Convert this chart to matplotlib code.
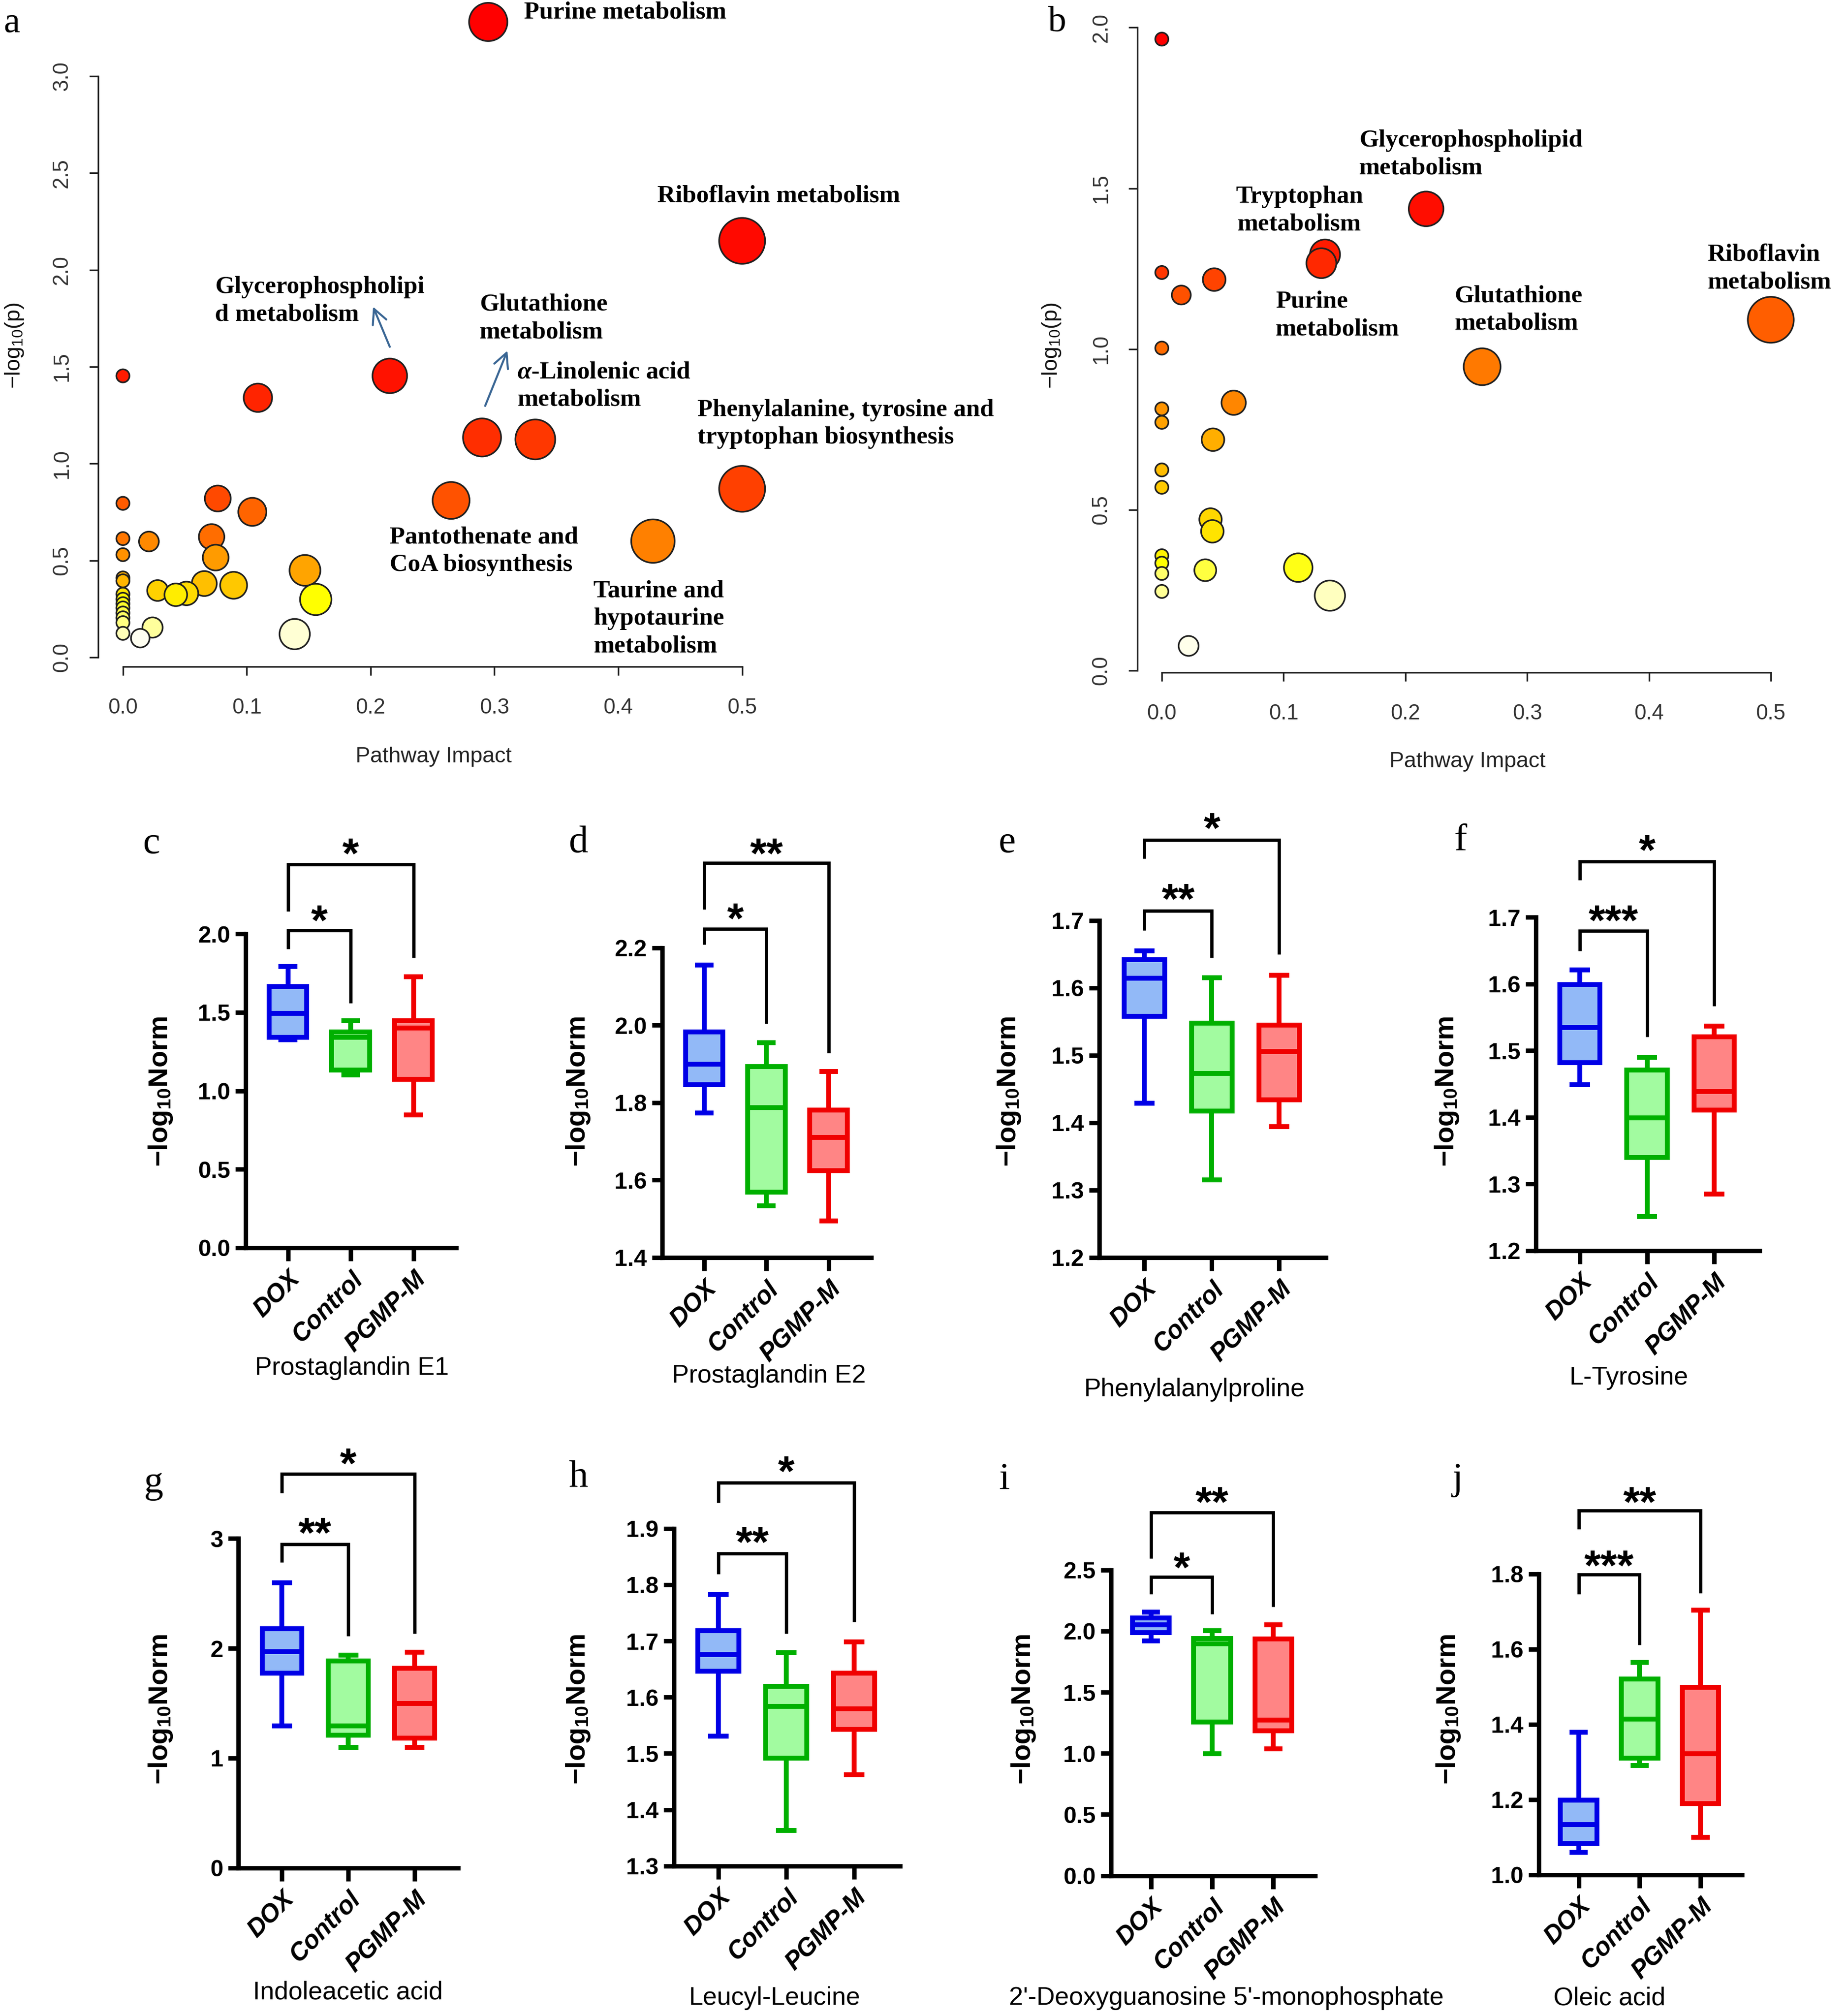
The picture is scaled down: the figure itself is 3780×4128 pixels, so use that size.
import colorsys
import numpy as np
import matplotlib
matplotlib.use("Agg")
import matplotlib.pyplot as plt

plt.rcParams['font.family'] = ['Liberation Sans', 'DejaVu Sans']
plt.rcParams['mathtext.fontset'] = 'custom'
plt.rcParams['mathtext.it'] = 'Liberation Serif:italic:bold'
plt.rcParams['mathtext.rm'] = 'Liberation Sans'

# ---------------- data ----------------
# panel a: pathway impact / -log10(p)
a_impact = [0.295, 0.5, 0.2155, 0.0, 0.109, 0.29, 0.333, 0.5, 0.0766, 0.265,
            0.0, 0.1045, 0.0716, 0.0, 0.428, 0.021, 0.0, 0.0749, 0.147, 0.0,
            0.0, 0.0657, 0.0894, 0.028, 0.0513, 0.0, 0.0427, 0.0, 0.1557, 0.0,
            0.0, 0.0, 0.0, 0.0, 0.0239, 0.0, 0.1387, 0.014]
a_logp = [3.28, 2.15, 1.453, 1.453, 1.34, 1.135, 1.125, 0.87, 0.82, 0.81,
          0.795, 0.751, 0.622, 0.613, 0.60, 0.598, 0.53, 0.515, 0.449, 0.41,
          0.395, 0.381, 0.372, 0.345, 0.33, 0.326, 0.323, 0.30, 0.299, 0.277,
          0.255, 0.229, 0.204, 0.179, 0.154, 0.124, 0.12, 0.099]

# panel b
b_impact = [0.0, 0.217, 0.134, 0.131, 0.0, 0.043, 0.016, 0.5, 0.0, 0.263,
            0.059, 0.0, 0.0, 0.042, 0.0, 0.0, 0.040, 0.0415, 0.0, 0.0,
            0.112, 0.0357, 0.0, 0.0, 0.138, 0.022]
b_logp = [1.964, 1.436, 1.294, 1.267, 1.238, 1.216, 1.168, 1.091, 1.003, 0.945,
          0.833, 0.814, 0.772, 0.718, 0.624, 0.570, 0.47, 0.433, 0.357, 0.334,
          0.32, 0.312, 0.302, 0.246, 0.233, 0.0766]

groups = ['DOX', 'Control', 'PGMP-M']
# box stats per group: [whisker low, Q1, median, Q3, whisker high]
pge1 = [[1.325, 1.34, 1.494, 1.664, 1.793], [1.10, 1.131, 1.34, 1.375, 1.445], [0.847, 1.073, 1.40, 1.445, 1.726]]
pge2 = [[1.774, 1.847, 1.90, 1.983, 2.156], [1.534, 1.569, 1.787, 1.893, 1.955], [1.494, 1.624, 1.71, 1.781, 1.88]]
phepro = [[1.429, 1.558, 1.614, 1.642, 1.655], [1.315, 1.4175, 1.473, 1.548, 1.615], [1.394, 1.434, 1.506, 1.545, 1.619]]
tyr = [[1.449, 1.4817, 1.5345, 1.599, 1.621], [1.251, 1.34, 1.399, 1.471, 1.49], [1.285, 1.411, 1.439, 1.521, 1.537]]
iaa = [[1.295, 1.775, 1.971, 2.177, 2.597], [1.096, 1.2075, 1.295, 1.883, 1.936], [1.096, 1.183, 1.498, 1.82, 1.967]]
leuleu = [[1.531, 1.6466, 1.676, 1.718, 1.783], [1.3636, 1.4914, 1.5837, 1.619, 1.679], [1.462, 1.5427, 1.579, 1.643, 1.698]]
dgmp = [[1.918, 1.987, 2.053, 2.107, 2.154], [0.997, 1.258, 1.896, 1.94, 2.003], [1.038, 1.186, 1.274, 1.934, 2.05]]
oleic = [[1.059, 1.083, 1.133, 1.199, 1.379], [1.291, 1.31, 1.414, 1.521, 1.565], [1.10, 1.189, 1.322, 1.4986, 1.703]]

# significance: (DOX vs Control, DOX vs PGMP-M)
sig = {'c': ('*', '*'), 'd': ('*', '**'), 'e': ('**', '*'), 'f': ('***', '*'),
       'g': ('**', '*'), 'h': ('**', '*'), 'i': ('*', '**'), 'j': ('***', '**')}

# ---------------- figure ----------------
FW, FH, DPI = 3780, 4128, 300
fig = plt.figure(figsize=(FW / DPI, FH / DPI), dpi=DPI)


def fx(px):
    return px / FW


def fy(py):
    return 1 - py / FH


def place(xpx, xv, ypx, yv, xlim, ylim):
    sx = (xpx[1] - xpx[0]) / (xv[1] - xv[0])
    sy = (ypx[1] - ypx[0]) / (yv[1] - yv[0])
    x0 = xpx[0] + (xlim[0] - xv[0]) * sx
    x1 = xpx[0] + (xlim[1] - xv[0]) * sx
    y0 = ypx[0] + (ylim[0] - yv[0]) * sy
    y1 = ypx[0] + (ylim[1] - yv[0]) * sy
    ax = fig.add_axes([fx(x0), fy(y0), (x1 - x0) / FW, (y0 - y1) / FH])
    ax.set_xlim(xlim)
    ax.set_ylim(ylim)
    ax.patch.set_alpha(0)
    return ax


def heat_colors(n):
    # same scheme as R heat.colors()
    j = n // 4
    i = n - j
    cols = [colorsys.hsv_to_rgb(k / (i - 1) / 6, 1, 1) for k in range(i)]
    if j > 0:
        for s in np.linspace(1 - 1 / (2 * j), 1 / (2 * j), j):
            cols.append(colorsys.hsv_to_rgb(1 / 6, s, 1))
    return cols


serif = ['Liberation Serif', 'DejaVu Serif']
tick_col = '#333333'


def bubble_panel(ax, impact, logp, ytop):
    impact = np.asarray(impact)
    logp = np.asarray(logp)
    heat = heat_colors(len(logp))
    order = np.argsort(-logp, kind='stable')
    colors = [None] * len(logp)
    for k, idx in enumerate(order):
        colors[idx] = heat[k]
    r_px = 13.4 + 33.6 * np.sqrt(impact / 0.5)
    sizes = (2 * r_px * 72 / DPI) ** 2
    ax.scatter(impact, logp, s=sizes, c=colors, edgecolors='#202020',
               linewidths=0.8, zorder=3, clip_on=False)
    for sp in ['top', 'right']:
        ax.spines[sp].set_visible(False)
    for sp in ['left', 'bottom']:
        ax.spines[sp].set_linewidth(0.8)
        ax.spines[sp].set_color('#222222')
    ax.spines['bottom'].set_bounds(0, 0.5)
    ax.spines['left'].set_bounds(0, ytop)
    ax.set_xticks(np.arange(0, 0.51, 0.1))
    ax.set_yticks(np.arange(0, ytop + 0.01, 0.5))
    ax.xaxis.set_major_formatter('{x:.1f}')
    ax.yaxis.set_major_formatter('{x:.1f}')
    ax.tick_params(direction='out', length=4.4, width=0.8, colors='#222222',
                   labelcolor=tick_col, labelsize=10.5)
    ax.tick_params(axis='x', pad=11)
    ax.tick_params(axis='y', pad=8.5)
    for lab in ax.get_yticklabels():
        lab.set_rotation(90)
        lab.set_va('center')


# ---- panel a ----
ax_a = place((251.7, 1519.6), (0, 0.5), (1346, 156), (0, 3),
             (-0.02, 0.52), (-0.047, 3.408))
bubble_panel(ax_a, a_impact, a_logp, 3.0)

note_kw = dict(family=serif, fontweight='bold', fontsize=12.3, va='center',
               linespacing=1.3, zorder=5)
a_notes = [("Purine metabolism", 0.324, 3.328, 'left'),
           ("Riboflavin metabolism", 0.4315, 2.38, 'left'),
           ("Glycerophospholipi\nd metabolism", 0.0743, 1.84, 'left'),
           ("Glutathione\nmetabolism", 0.288, 1.75, 'left'),
           ("$\\alpha$-Linolenic acid\nmetabolism", 0.3185, 1.40, 'left'),
           ("Phenylalanine, tyrosine and\ntryptophan biosynthesis", 0.464, 1.205, 'left'),
           ("Pantothenate and\nCoA biosynthesis", 0.2155, 0.548, 'left'),
           ("Taurine and\nhypotaurine\nmetabolism", 0.380, 0.20, 'left')]
for txt, x, y, ha in a_notes:
    ax_a.text(x, y, txt, ha=ha, multialignment=ha, **note_kw)

for tail, head in [((0.2155, 1.603), (0.202, 1.81)), ((0.2925, 1.298), (0.3105, 1.583))]:
    ax_a.annotate('', xy=head, xytext=tail,
                  arrowprops=dict(arrowstyle='->', color='#3a6694', lw=1.0,
                                  mutation_scale=18, shrinkA=0, shrinkB=0))

fig.text(fx(30), fy(708), '−log$_{\\mathregular{10}}$(p)', rotation=90,
         ha='center', va='center', fontsize=10.8, color='#111111')
fig.text(fx(888), fy(1549), 'Pathway Impact', ha='center', va='center',
         fontsize=10.8, color='#222222')

# ---- panel b ----
ax_b = place((2379, 3626), (0, 0.5), (1373, 56.4), (0, 2),
             (-0.02, 0.52), (-0.0058, 2.04))
bubble_panel(ax_b, b_impact, b_logp, 2.0)
b_notes = [("Glycerophospholipid\nmetabolism", 0.162, 1.606, 'left'),
           ("Tryptophan\nmetabolism", 0.113, 1.43, 'center'),
           ("Purine\nmetabolism", 0.0933, 1.104, 'left'),
           ("Glutathione\nmetabolism", 0.2405, 1.122, 'left'),
           ("Riboflavin\nmetabolism", 0.448, 1.25, 'left')]
for txt, x, y, ha in b_notes:
    ax_b.text(x, y, txt, ha=ha, multialignment=ha, **note_kw)

fig.text(fx(2154), fy(708), '−log$_{\\mathregular{10}}$(p)', rotation=90,
         ha='center', va='center', fontsize=10.8, color='#111111')
fig.text(fx(3005), fy(1560), 'Pathway Impact', ha='center', va='center',
         fontsize=10.8, color='#222222')

label_kw = dict(family=serif, fontsize=18, ha='center', va='center')
fig.text(fx(24), fy(48), 'a', **label_kw)
fig.text(fx(2165), fy(46), 'b', **label_kw)

# ---------------- box panels ----------------
edge_cols = ['#0000E6', '#00B000', '#F00000']
fill_cols = ['#92B9F7', '#A2FBA0', '#FF8585']

box_layout = {
    'c': dict(stats=pge1, name='Prostaglandin E1', yaxis=503, xright=934, gx=(589.5, 846.5),
              ty=(2555, 1912), tv=(0.0, 2.0), step=0.5, fmt='{x:.1f}',
              inner=(2.022, 1.905, 1.557, 2.154), outer=(2.441, 2.142, 1.848, 2.578),
              lab=(310.6, 1728.5), ylab=(329, 2235), xlab=(721, 2802)),
    'd': dict(stats=pge2, name='Prostaglandin E2', yaxis=1355.6, xright=1784, gx=(1442, 1696.7),
              ty=(2575, 1940.8), tv=(1.4, 2.2), step=0.2, fmt='{x:.1f}',
              inner=(2.249, 2.208, 2.004, 2.304), outer=(2.419, 2.299, 1.928, 2.471),
              lab=(1184, 1726), ylab=(1184, 2235), xlab=(1575, 2818)),
    'e': dict(stats=phepro, name='Phenylalanylproline', yaxis=2250.7, xright=2714.6, gx=(2343.4, 2619.4),
              ty=(2575, 1884.7), tv=(1.2, 1.7), step=0.1, fmt='{x:.1f}',
              inner=(1.7145, 1.6855, 1.645, 1.748), outer=(1.8195, 1.7917, 1.6495, 1.8526),
              lab=(2062.7, 1726), ylab=(2066, 2235), xlab=(2446, 2846)),
    'f': dict(stats=tyr, name='L-Tyrosine', yaxis=3144.8, xright=3602.7, gx=(3235, 3510),
              ty=(2560.7, 1878.3), tv=(1.2, 1.7), step=0.1, fmt='{x:.1f}',
              inner=(1.6795, 1.650, 1.521, 1.7117), outer=(1.784, 1.7557, 1.5668, 1.817),
              lab=(2990.5, 1722), ylab=(2963, 2235), xlab=(3336, 2822)),
    'g': dict(stats=iaa, name='Indoleacetic acid', yaxis=488.4, xright=938, gx=(577.3, 849),
              ty=(3824.7, 3150.3), tv=(0.0, 3.0), step=1.0, fmt='{x:.0f}',
              inner=(2.947, 2.783, 2.111, 3.15), outer=(3.588, 3.413, 2.135, 3.78),
              lab=(314, 3037.7), ylab=(329, 3500), xlab=(712.5, 4080.5)),
    'h': dict(stats=leuleu, name='Leucyl-Leucine', yaxis=1380, xright=1843, gx=(1471, 1749),
              ty=(3820.8, 3129.8), tv=(1.3, 1.9), step=0.1, fmt='{x:.1f}',
              inner=(1.8557, 1.8195, 1.7135, 1.8947), outer=(1.9815, 1.946, 1.734, 2.021),
              lab=(1184, 3026), ylab=(1184, 3500), xlab=(1586, 4092)),
    'i': dict(stats=dgmp, name="2'-Deoxyguanosine 5'-monophosphate", yaxis=2274.8, xright=2693,
              gx=(2356.7, 2607.3), ty=(3840.5, 3214.8), tv=(0.0, 2.5), step=0.5, fmt='{x:.1f}',
              inner=(2.443, 2.305, 2.138, 2.61), outer=(2.972, 2.594, 2.201, 3.145),
              lab=(2056.6, 3030), ylab=(2096, 3500), xlab=(2511, 4092)),
    'j': dict(stats=oleic, name='Oleic acid', yaxis=3150.8, xright=3566.5, gx=(3232.7, 3482),
              ty=(3838.9, 3222.7), tv=(1.0, 1.8), step=0.2, fmt='{x:.1f}',
              inner=(1.798, 1.747, 1.611, 1.851), outer=(1.9686, 1.9195, 1.749, 2.0197),
              lab=(2984.5, 3030), ylab=(2966, 3500), xlab=(3295.4, 4092)),
}

star_fs = 21
for key, L in box_layout.items():
    sp = (L['gx'][1] - L['gx'][0]) / 2
    xlim = ((L['yaxis'] - L['gx'][0]) / sp, (L['xright'] - L['gx'][0]) / sp)
    ax = place(L['gx'], (0, 2), L['ty'], L['tv'], xlim, L['tv'])

    bstats = [dict(whislo=s[0], q1=s[1], med=s[2], q3=s[3], whishi=s[4], fliers=[])
              for s in L['stats']]
    bp = ax.bxp(bstats, positions=[0, 1, 2], widths=0.6, capwidths=0.3,
                patch_artist=True, showfliers=False, manage_ticks=False)
    for k in range(3):
        bp['boxes'][k].set(facecolor=fill_cols[k], edgecolor=edge_cols[k], linewidth=2.4)
        bp['medians'][k].set(color=edge_cols[k], linewidth=2.4, solid_capstyle='butt')
        for ln in bp['whiskers'][2 * k:2 * k + 2] + bp['caps'][2 * k:2 * k + 2]:
            ln.set(color=edge_cols[k], linewidth=2.4, solid_capstyle='butt')

    for s in ['top', 'right']:
        ax.spines[s].set_visible(False)
    for s in ['left', 'bottom']:
        ax.spines[s].set_linewidth(2.2)
    ax.set_yticks(np.arange(L['tv'][0], L['tv'][1] + 1e-6, L['step']))
    ax.yaxis.set_major_formatter(L['fmt'])
    ax.tick_params(axis='y', direction='out', length=5, width=2.2, pad=2.5,
                   labelsize=11.5)
    ax.tick_params(axis='x', direction='out', length=6.5, width=2.2, pad=3)
    for lab in ax.get_yticklabels():
        lab.set_fontweight('bold')
    ax.set_xticks([0, 1, 2])
    ax.set_xticklabels(groups, fontweight='bold', fontstyle='italic', fontsize=12.3,
                       rotation=45, ha='right', va='top', rotation_mode='anchor')

    # significance brackets
    for (bar, lleg, rleg, ystar), x2, sym in [(L['inner'], 1, sig[key][0]),
                                              (L['outer'], 2, sig[key][1])]:
        ax.plot([0, 0, x2, x2], [lleg, bar, bar, rleg], color='black', lw=1.6,
                clip_on=False, solid_joinstyle='miter', solid_capstyle='butt')
        ax.annotate(sym, xy=(x2 / 2, ystar), xytext=(0, -0.58 * star_fs),
                    textcoords='offset points', ha='center', va='baseline',
                    fontsize=star_fs, fontweight='bold', annotation_clip=False)

    fig.text(fx(L['lab'][0]), fy(L['lab'][1]), key, family=serif, fontsize=19,
             ha='center', va='center')
    fig.text(fx(L['ylab'][0]), fy(L['ylab'][1]), '−log$_{\\mathregular{10}}$Norm',
             rotation=90, ha='center', va='center', fontsize=13.5, fontweight='bold')
    fig.text(fx(L['xlab'][0]), fy(L['xlab'][1]), L['name'], ha='center',
             va='center', fontsize=12.5)

fig.savefig('out.png', dpi=DPI, facecolor='white')
